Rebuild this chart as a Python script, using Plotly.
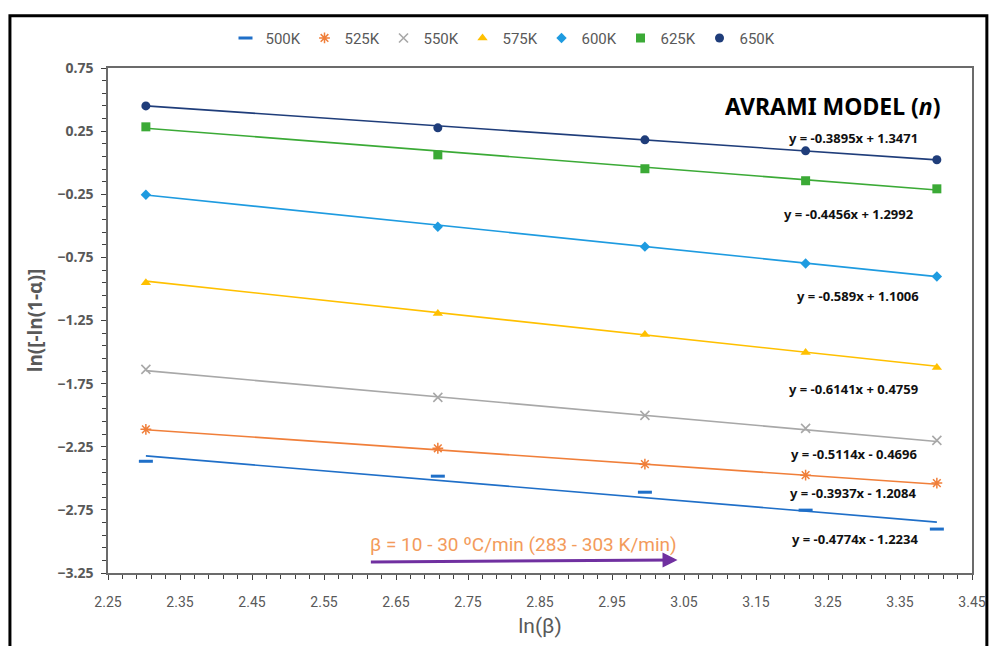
import plotly.graph_objects as go

ln_beta = [2.3026, 2.7081, 2.9957, 3.2189, 3.4012]
series_names = ["500K", "525K", "550K", "575K", "600K", "625K", "650K"]
y_500 = [-2.365, -2.483, -2.610, -2.752, -2.902]
y_525 = [-2.112, -2.262, -2.388, -2.475, -2.538]
y_550 = [-1.637, -1.859, -2.001, -2.104, -2.199]
y_575 = [-0.950, -1.195, -1.361, -1.503, -1.622]
y_600 = [-0.254, -0.507, -0.665, -0.799, -0.902]
y_625 = [0.284, 0.062, -0.048, -0.143, -0.207]
y_650 = [0.450, 0.276, 0.181, 0.094, 0.023]
slopes = [-0.4774, -0.3937, -0.5114, -0.6141, -0.589, -0.4456, -0.3895]
intercepts = [-1.2234, -1.2084, -0.4696, 0.4759, 1.1006, 1.2992, 1.3471]
eq_labels = ["y = -0.4774x - 1.2234", "y = -0.3937x - 1.2084", "y = -0.5114x - 0.4696",
             "y = -0.6141x + 0.4759", "y = -0.589x + 1.1006", "y = -0.4456x + 1.2992",
             "y = -0.3895x + 1.3471"]
eq_x = [3.288, 3.285, 3.286, 3.285, 3.292, 3.279, 3.285]
eq_y = [-2.981, -2.618, -2.309, -1.795, -1.052, -0.404, 0.197]

ys = [y_500, y_525, y_550, y_575, y_600, y_625, y_650]
colors = ["#1F6FC8", "#F07F3A", "#A8A8A8", "#FFC000", "#1E9BE0", "#3BAA36", "#1F3D7A"]
symbols = ["line-ew", "asterisk", "x-thin", "triangle-up", "diamond", "square", "circle"]
sizes = [10, 9, 9, 9, 8, 9, 9]
line_w = [3, 1.5, 1.6, 0, 0, 0, 0]

cond = "Roboto, Liberation Sans Narrow, sans-serif"
calib = "Noto Sans, Liberation Sans, sans-serif"
gray = "#595959"

fig = go.Figure()
for i, name in enumerate(series_names):
    x0, x1 = ln_beta[0], ln_beta[-1]
    fig.add_trace(go.Scatter(
        x=[x0, x1], y=[slopes[i] * x0 + intercepts[i], slopes[i] * x1 + intercepts[i]],
        mode="lines", line=dict(color=colors[i], width=1.6),
        showlegend=False, hoverinfo="skip"))
for i, name in enumerate(series_names):
    marker = dict(symbol=symbols[i], size=sizes[i], color=colors[i],
                  line=dict(color=colors[i], width=line_w[i]))
    fig.add_trace(go.Scatter(x=ln_beta, y=ys[i], mode="markers", name=name, marker=marker))

annotations = []
for i in range(len(series_names)):
    annotations.append(dict(x=eq_x[i], y=eq_y[i], xref="x", yref="y", text=eq_labels[i],
                            showarrow=False, font=dict(family=calib, size=13, color="#111111", weight="bold")))
annotations.append(dict(x=0.966, y=0.960, xref="paper", yref="paper", xanchor="right",
                        text="AVRAMI MODEL (<i>n</i>)", showarrow=False,
                        font=dict(family=calib, size=23, color="#000000", weight="bold")))
annotations.append(dict(x=2.827, y=-3.021, xref="x", yref="y",
                        text="β = 10 - 30 ºC/min (283 - 303 K/min)", showarrow=False,
                        font=dict(family=cond, size=19, color="#F39B5B")))
annotations.append(dict(x=3.041, y=-3.147, ax=2.613, ay=-3.163, xref="x", yref="y",
                        axref="x", ayref="y", text="", showarrow=True, arrowhead=2,
                        arrowsize=1, arrowwidth=3, arrowcolor="#7030A0"))

fig.update_layout(
    width=998, height=646,
    margin=dict(l=108, r=18, t=68, b=72),
    paper_bgcolor="white", plot_bgcolor="white",
    showlegend=True,
    legend=dict(orientation="h", x=0.136, xanchor="left", y=1.059, yanchor="middle",
                font=dict(family=cond, size=15, color=gray), itemwidth=30,
                entrywidth=34, entrywidthmode="pixels", tracegroupgap=0),
    annotations=annotations,
    shapes=[dict(type="rect", xref="paper", yref="paper", x0=-0.1135, x1=1.0172,
                 y0=-0.2, y1=1.1037, line=dict(color="#000000", width=3))],
    xaxis=dict(range=[2.25, 3.45], tick0=2.25, dtick=0.1, tickformat=".2f",
               showgrid=False, zeroline=False, showline=True, linecolor="#6b6b6b",
               linewidth=1.5, mirror=True, ticks="outside", ticklen=5, tickcolor="#404040",
               minor=dict(dtick=0.02, tick0=2.25, ticks="outside", ticklen=4, tickcolor="#404040"),
               tickfont=dict(family=cond, size=14, color=gray), ticklabelstandoff=10,
               title=dict(text="ln(β)", font=dict(family=cond, size=21, color=gray), standoff=10)),
    yaxis=dict(range=[-3.25, 0.75], tick0=0.75, dtick=0.5, tickformat=".2f",
               showgrid=False, zeroline=False, showline=True, linecolor="#6b6b6b",
               linewidth=1.5, mirror=True, ticks="outside", ticklen=5, tickcolor="#404040",
               minor=dict(dtick=0.1, tick0=0.75, ticks="outside", ticklen=4, tickcolor="#404040"),
               tickfont=dict(family=calib, size=14, color=gray, weight="bold"), ticklabelstandoff=5,
               title=dict(text="ln([-ln(1-α)]", font=dict(family=calib, size=19, color=gray, weight="bold"),
                          standoff=10)),
)

fig.write_html("out.html")
